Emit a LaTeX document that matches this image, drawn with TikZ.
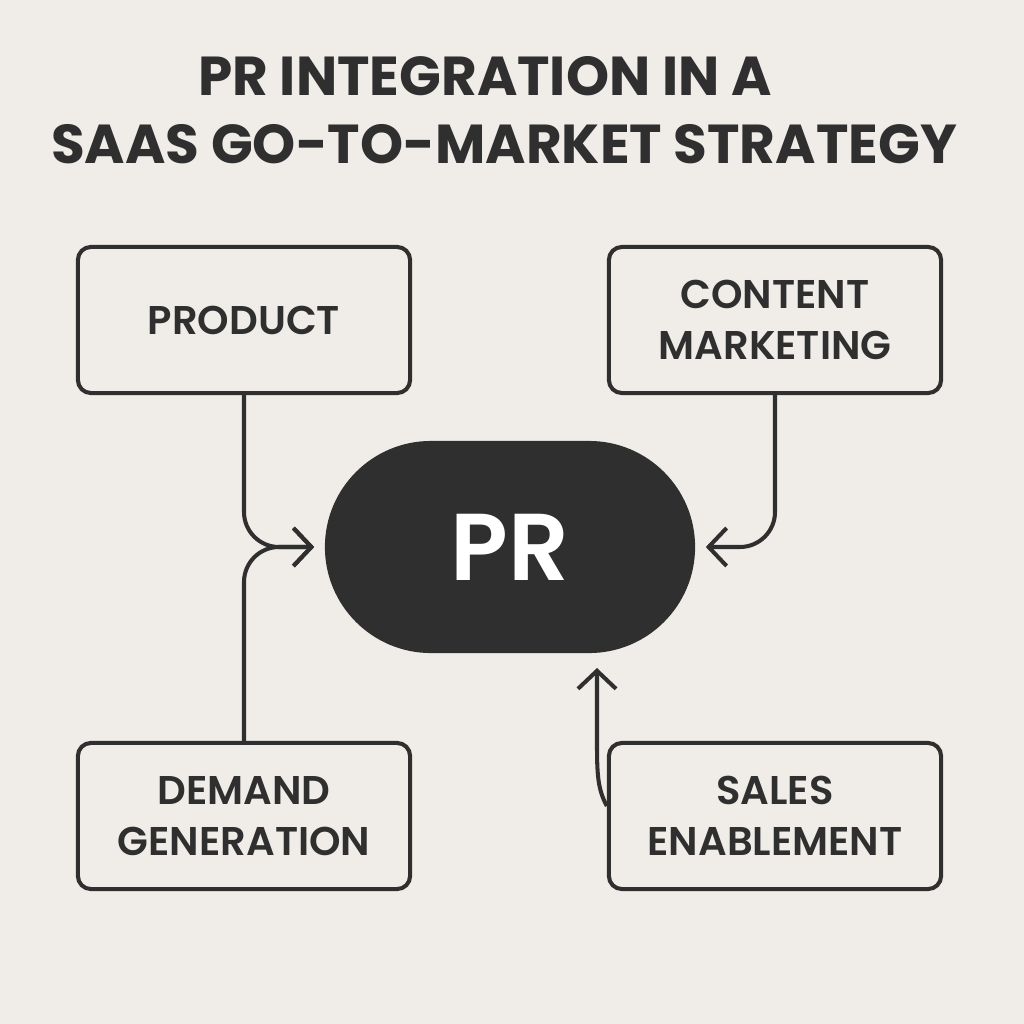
\documentclass[tikz,border=0pt]{standalone}
\usepackage{fontspec}
\setmainfont{Poppins}
\newfontfamily\semib{Poppins SemiBold}
\usetikzlibrary{arrows.meta,calc}
\definecolor{bg}{HTML}{F0EDE8}
\definecolor{ink}{HTML}{2F2F2F}
\begin{document}
\begin{tikzpicture}[x=0.01cm,y=-0.01cm,
  box/.style={draw=ink,line width=1.15pt,rounded corners=0.13cm,fill=bg,
    minimum width=3.32cm,minimum height=1.46cm,align=center,
    font=\fontsize{11.4pt}{14.5pt}\semib,text=ink},
  conn/.style={draw=ink,line width=1.15pt,rounded corners=0.35cm},
  arr/.style={-{Straight Barb[length=0.18cm,width=0.38cm,line width=1.15pt]}},
  ttl/.style={font=\fontsize{15.6pt}{18pt}\bfseries,text=ink,anchor=base}]
\fill[bg] (0,0) rectangle (1024,1024);
\useasboundingbox (0,0) rectangle (1024,1024);
\node[ttl] (t1) at (485,95) {PR INTEGRATION IN A};
\node[ttl] (t2) at (504,163) {SAAS GO-TO-MARKET STRATEGY};
\node[box] (prod) at (244,320) {PRODUCT};
\node[box] (cont) at (775,320) {CONTENT\\MARKETING};
\node[box] (dem) at (244,816) {DEMAND\\GENERATION};
\node[box] (sales) at (775,816) {SALES\\ENABLEMENT};
\node[fill=ink,rounded corners=1.06cm,minimum width=3.70cm,minimum height=2.12cm,
  text=white,font=\fontsize{27pt}{30pt}\semib] (pr) at (510,547) {PR};
\draw[conn,arr,shorten >=0.1cm] (prod.south) |- (pr.west);
\draw[conn,arr,shorten >=0.1cm] (dem.north) |- (pr.west);
\draw[conn,arr,shorten >=0.1cm] (cont.south) |- (pr.east);
\coordinate (s0) at (sales.west |- 0,806);
\coordinate (s1) at (597,668);
\draw[draw=ink,line width=1.15pt,arr] (s0) .. controls (598,790) and (597,775) .. (597,745) -- (s1);
\end{tikzpicture}
\end{document}
